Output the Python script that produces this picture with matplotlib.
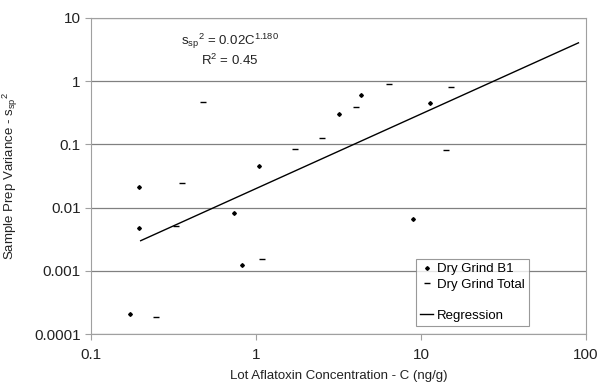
import matplotlib.pyplot as plt
import matplotlib.ticker as mticker
import numpy as np
from matplotlib.lines import Line2D

plt.rcParams['font.family'] = ['Liberation Sans', 'DejaVu Sans']

# Dry Grind B1 (diamonds)
b1_conc = [0.195, 0.196, 0.172, 0.733, 0.819, 1.047, 3.17, 4.33, 11.4, 8.95]
b1_var = [0.0213, 0.00467, 0.000204, 0.00815, 0.00124, 0.0457, 0.308, 0.607, 0.449, 0.00663]

# Dry Grind Total (dashes)
tot_conc = [0.48, 0.357, 1.72, 2.5, 4.04, 6.37, 15.1, 14.2, 0.329, 1.087, 0.247]
tot_var = [0.465, 0.0249, 0.084, 0.128, 0.384, 0.887, 0.81, 0.082, 0.0051, 0.00153, 0.000185]

# regression s^2 = a * C^b
coef_a = 0.02
coef_b = 1.18
reg_range = [0.2, 90]

fig = plt.figure(figsize=(6, 3.85), dpi=100)
ax = fig.add_axes([91 / 600, 1 - 334 / 385, (586 - 91) / 600, (334 - 18) / 385])

ax.set_xscale('log')
ax.set_yscale('log')
ax.set_xlim(0.1, 100)
ax.set_ylim(0.0001, 10)

ax.yaxis.grid(True, which='major', color='#808080', linewidth=0.9)
ax.set_axisbelow(True)
for s in ax.spines.values():
    s.set_color('#a0a0a0')

ax.plot(b1_conc, b1_var, linestyle='none', marker='D', markersize=1.9,
        color='black', label='Dry Grind B1')
ax.plot(tot_conc, tot_var, linestyle='none', marker='_', markersize=4.5,
        markeredgewidth=1.0, color='black', label='Dry Grind Total')

xr = np.logspace(np.log10(reg_range[0]), np.log10(reg_range[1]), 50)
ax.plot(xr, coef_a * xr ** coef_b, color='black', linewidth=1.0, label='Regression')

ax.xaxis.set_major_formatter(mticker.FuncFormatter(lambda v, p: f'{v:g}'))
ax.yaxis.set_major_formatter(mticker.FuncFormatter(lambda v, p: f'{v:.4f}'.rstrip('0').rstrip('.') if v < 1 else f'{v:g}'))
ax.xaxis.set_minor_locator(mticker.NullLocator())
ax.yaxis.set_minor_locator(mticker.NullLocator())
ax.tick_params(axis='both', which='major', labelsize=11, length=4, color='#a0a0a0',
               direction='out', labelcolor='#222222')
ax.tick_params(axis='x', pad=6)

ax.set_xlabel('Lot Aflatoxin Concentration - C (ng/g)', fontsize=9.5, color='#222222', labelpad=6)
ax.set_ylabel(r'Sample Prep Variance - s$\mathregular{_{sp}}$$\mathregular{^{2}}$',
              fontsize=9.5, color='#222222', labelpad=10)

ax.text(0.28, 0.925, r's$\mathregular{_{sp}}$$\mathregular{^{2}}$ = 0.02C$\mathregular{^{1.180}}$',
        transform=ax.transAxes, ha='center', va='center', fontsize=9.5, color='#222222')
ax.text(0.28, 0.865, r'R$\mathregular{^{2}}$ = 0.45', transform=ax.transAxes,
        ha='center', va='center', fontsize=9.5, color='#222222')

handles, labels = ax.get_legend_handles_labels()
blank = Line2D([], [], linestyle='none')
handles = handles[:2] + [blank] + handles[2:]
labels = labels[:2] + [''] + labels[2:]
leg = ax.legend(handles, labels, loc='lower left', bbox_to_anchor=((416 - 91) / 495, (334 - 326) / 316),
                frameon=True, fancybox=False, fontsize=9.5, handlelength=1.0,
                handletextpad=0.3, borderpad=0.3, labelspacing=0.25, borderaxespad=0)
leg.get_frame().set_edgecolor('#808080')
leg.get_frame().set_linewidth(0.8)

fig.savefig('out.png', dpi=100)
